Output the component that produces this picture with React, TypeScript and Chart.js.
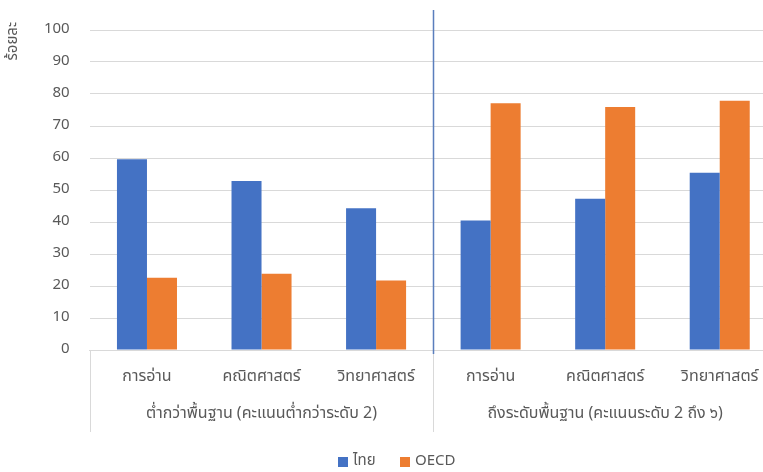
import React, { useEffect, useRef } from "react";
import { Chart, registerables } from "chart.js";

Chart.register(...registerables);

const categories = ["การอ่าน", "คณิตศาสตร์", "วิทยาศาสตร์", "การอ่าน", "คณิตศาสตร์", "วิทยาศาสตร์"];
const groups = ["ต่ำกว่าพื้นฐาน (คะแนนต่ำกว่าระดับ 2)", "ถึงระดับพื้นฐาน (คะแนนระดับ 2 ถึง ๖)"];
const thaiValues = [59.6, 52.8, 44.3, 40.5, 47.3, 55.4];
const oecdValues = [22.6, 23.8, 21.7, 77.1, 75.9, 77.9];
const seriesNames = ["ไทย", "OECD"];
const yTitle = "ร้อยละ";

const FONT = "'Noto Sans Thai', 'Noto Sans', Roboto, sans-serif";
const TEXT = "#595959";
const BLUE = "#4472C4";
const ORANGE = "#ED7D31";

const overlay = {
  id: "overlay",
  afterDraw(chart: any) {
    const { ctx, chartArea, scales } = chart;
    const x = scales.x;
    const n = categories.length;
    const w = (chartArea.right - chartArea.left) / n;
    const bottom = chartArea.bottom;
    ctx.save();
    ctx.strokeStyle = "#d9d9d9";
    ctx.lineWidth = 1;
    const sepBottom = bottom + 82;
    [0, 3, 6].forEach((i) => {
      const px = Math.round(chartArea.left + i * w) + 0.5;
      ctx.beginPath();
      ctx.moveTo(px, bottom);
      ctx.lineTo(px, sepBottom);
      ctx.stroke();
    });
    const dx = Math.round(chartArea.left + 3 * w) + 0.5;
    ctx.strokeStyle = "#5A7EBD";
    ctx.lineWidth = 1.5;
    ctx.beginPath();
    ctx.moveTo(dx, chartArea.top - 20);
    ctx.lineTo(dx, bottom + 4);
    ctx.stroke();
    ctx.fillStyle = TEXT;
    ctx.font = `16px ${FONT}`;
    ctx.textAlign = "center";
    ctx.textBaseline = "middle";
    groups.forEach((g, gi) => {
      const cx = (x.getPixelForValue(gi * 3) + x.getPixelForValue(gi * 3 + 2)) / 2;
      ctx.fillText(g, cx, bottom + 65);
    });
    ctx.save();
    ctx.font = `15px ${FONT}`;
    ctx.translate(14, 22);
    ctx.rotate(-Math.PI / 2);
    ctx.textAlign = "right";
    ctx.textBaseline = "middle";
    ctx.fillText(yTitle, 0, 0);
    ctx.restore();
    const ly = 462;
    ctx.font = `15px ${FONT}`;
    const items = [
      { name: seriesNames[0], color: BLUE, sx: 338 },
      { name: seriesNames[1], color: ORANGE, sx: 400 },
    ];
    items.forEach((it) => {
      ctx.fillStyle = it.color;
      ctx.fillRect(it.sx, ly - 5, 10, 10);
      ctx.fillStyle = TEXT;
      ctx.textAlign = "left";
      ctx.fillText(it.name, it.sx + 15, ly);
    });
    ctx.restore();
  },
};

export default function App() {
  const ref = useRef<HTMLCanvasElement>(null);
  useEffect(() => {
    if (!ref.current) return;
    const chart = new Chart(ref.current, {
      type: "bar",
      data: {
        labels: categories,
        datasets: [
          { label: seriesNames[0], data: thaiValues, backgroundColor: BLUE },
          { label: seriesNames[1], data: oecdValues, backgroundColor: ORANGE },
        ],
      },
      options: {
        animation: false,
        responsive: false,
        maintainAspectRatio: false,
        layout: { padding: { top: 30, right: 3, bottom: 0, left: 0 } },
        plugins: { legend: { display: false }, tooltip: { enabled: false } },
        datasets: { bar: { categoryPercentage: 0.524, barPercentage: 1.0 } },
        scales: {
          x: {
            grid: { display: false, drawTicks: false },
            border: { display: true, color: "#d9d9d9" },
            ticks: { color: TEXT, font: { family: FONT, size: 16 }, padding: 18, maxRotation: 0, autoSkip: false },
            afterFit: (s: any) => { s.height = 122; },
          },
          y: {
            min: 0,
            max: 100,
            ticks: { stepSize: 10, color: TEXT, font: { family: FONT, size: 15 }, padding: 20 },
            grid: { color: "#d9d9d9", drawTicks: false },
            border: { display: false },
            afterFit: (s: any) => { s.width = 89.7; },
          },
        },
      },
      plugins: [overlay],
    });
    return () => chart.destroy();
  }, []);
  return (
    <div style={{ position: "fixed", left: 0, top: 0, width: 763, height: 472, overflow: "hidden", background: "#fff" }}>
      <canvas ref={ref} width={780} height={472} style={{ width: 780, height: 472, display: "block" }} />
    </div>
  );
}
